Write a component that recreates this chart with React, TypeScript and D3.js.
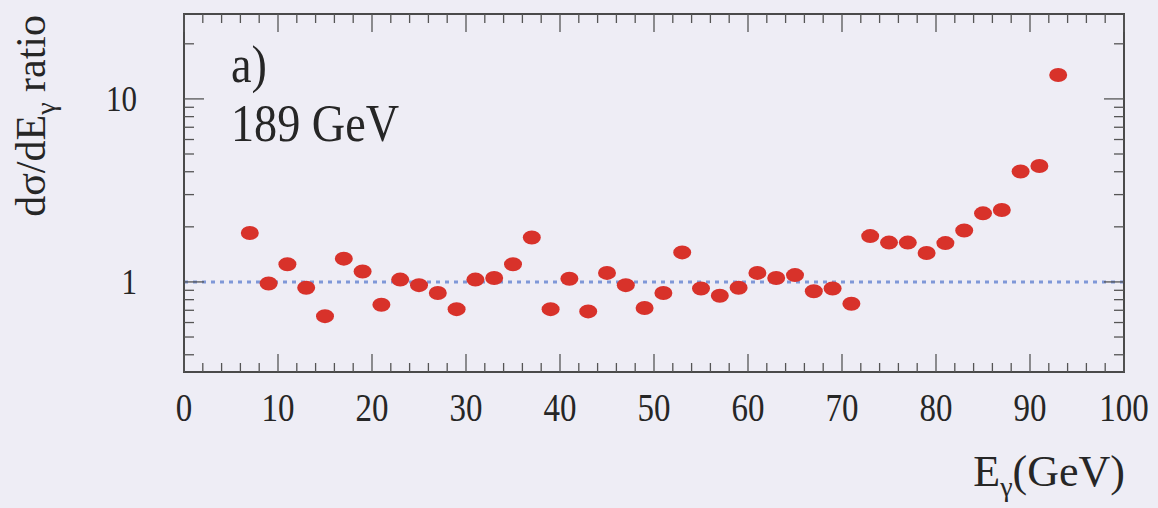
import React, { useEffect, useRef } from 'react';
import * as d3 from 'd3';

// photon energy bin centres (GeV) and the measured/expected ratio
const energies = [
  7, 9, 11, 13, 15, 17, 19, 21, 23, 25, 27, 29, 31, 33, 35, 37, 39, 41, 43, 45, 47, 49,
  51, 53, 55, 57, 59, 61, 63, 65, 67, 69, 71, 73, 75, 77, 79, 81, 83, 85, 87, 89, 91, 93
];
const ratios = [
  1.85, 0.98, 1.25, 0.93, 0.65, 1.34, 1.14, 0.75, 1.03, 0.96, 0.87, 0.71, 1.03, 1.05, 1.25, 1.75,
  0.71, 1.04, 0.69, 1.12, 0.96, 0.72, 0.87, 1.45, 0.92, 0.84, 0.93, 1.12, 1.05, 1.09, 0.89, 0.92,
  0.76, 1.78, 1.64, 1.64, 1.44, 1.63, 1.91, 2.37, 2.47, 4.01, 4.30, 13.5
];
const xTicks = [0, 10, 20, 30, 40, 50, 60, 70, 80, 90, 100];
const xMinorTicks = [
  2, 4, 6, 8, 12, 14, 16, 18, 22, 24, 26, 28, 32, 34, 36, 38, 42, 44, 46, 48,
  52, 54, 56, 58, 62, 64, 66, 68, 72, 74, 76, 78, 82, 84, 86, 88, 92, 94, 96, 98
];
const yTicks = [1, 10];
const yMinorTicks = [0.4, 0.5, 0.6, 0.7, 0.8, 0.9, 2, 3, 4, 5, 6, 7, 8, 9, 20];
const refLevel = 1;

const App = () => {
  const ref = useRef<SVGSVGElement>(null);

  useEffect(() => {
    const width = 1158;
    const height = 508;
    const left = 184, right = 1124, top = 14, bottom = 372;
    const bg = '#eeedf5';
    const ink = '#262626';
    const font = '"Liberation Serif", "DejaVu Serif", serif';

    const svg = d3.select(ref.current);
    svg.selectAll('*').remove();
    svg.attr('width', width).attr('height', height);

    svg.append('rect').attr('width', width).attr('height', height).attr('fill', bg);

    const x = d3.scaleLinear().domain([0, 100]).range([left, right]);
    const y = d3.scaleLog().domain([0.322, 29.1]).range([bottom, top]);

    // soft edge for the scanned look
    const defs = svg.append('defs');
    defs.append('filter').attr('id', 'soft')
      .append('feGaussianBlur').attr('stdDeviation', 0.7);

    // reference line at ratio = 1
    svg.append('line')
      .attr('x1', left).attr('x2', right)
      .attr('y1', y(refLevel)).attr('y2', y(refLevel))
      .attr('stroke', '#7f98d8')
      .attr('stroke-width', 3)
      .attr('stroke-dasharray', '4 5');

    // frame
    svg.append('rect')
      .attr('x', left).attr('y', top)
      .attr('width', right - left).attr('height', bottom - top)
      .attr('fill', 'none')
      .attr('stroke', '#4a4a4a')
      .attr('stroke-width', 2);

    const ticks = svg.append('g').attr('stroke', '#555').attr('stroke-width', 1.3);

    const xTick = (vals: number[], len: number) => {
      vals.forEach(v => {
        ticks.append('line').attr('x1', x(v)).attr('x2', x(v)).attr('y1', bottom).attr('y2', bottom - len);
        ticks.append('line').attr('x1', x(v)).attr('x2', x(v)).attr('y1', top).attr('y2', top + len);
      });
    };
    xTick(xTicks, 18);
    xTick(xMinorTicks, 9);

    const yTick = (vals: number[], len: number) => {
      vals.forEach(v => {
        ticks.append('line').attr('x1', left).attr('x2', left + len).attr('y1', y(v)).attr('y2', y(v));
        ticks.append('line').attr('x1', right).attr('x2', right - len).attr('y1', y(v)).attr('y2', y(v));
      });
    };
    yTick(yTicks, 20);
    yTick(yMinorTicks, 10);

    // tick labels
    svg.append('g')
      .selectAll('text')
      .data(xTicks)
      .enter()
      .append('text')
      .attr('transform', d => `translate(${x(d)},421) scale(1,1.2)`)
      .attr('text-anchor', 'middle')
      .style('font-family', font)
      .style('font-size', '33px')
      .style('fill', ink)
      .text(d => d);

    svg.append('g')
      .selectAll('text')
      .data(yTicks)
      .enter()
      .append('text')
      .attr('transform', d => `translate(137,${y(d) + 12}) scale(1,1.15)`)
      .attr('text-anchor', 'end')
      .style('font-family', font)
      .style('font-size', '31px')
      .style('fill', ink)
      .text(d => d);

    // data points
    svg.append('g')
      .attr('filter', 'url(#soft)')
      .selectAll('ellipse')
      .data(energies)
      .enter()
      .append('ellipse')
      .attr('cx', d => x(d))
      .attr('cy', (d, i) => y(ratios[i]))
      .attr('rx', 9)
      .attr('ry', 7)
      .attr('fill', '#d8302b');

    // panel labels
    svg.append('text')
      .attr('transform', 'translate(231,82) scale(1.05,1.2)')
      .style('font-family', font)
      .style('font-size', '44px')
      .style('fill', ink)
      .text('a)');

    svg.append('text')
      .attr('transform', 'translate(231,141) scale(1.05,1.2)')
      .style('font-family', font)
      .style('font-size', '44px')
      .style('fill', ink)
      .text('189 GeV');

    // x axis title
    const xt = svg.append('text')
      .attr('x', 1125).attr('y', 486)
      .attr('text-anchor', 'end')
      .style('font-family', font)
      .style('font-size', '44px')
      .style('fill', ink);
    xt.append('tspan').text('E');
    xt.append('tspan').attr('dy', 10).style('font-size', '28px').text('γ');
    xt.append('tspan').attr('dy', -10).text('(GeV)');

    // y axis title
    const yt = svg.append('text')
      .attr('transform', 'translate(45,15) rotate(-90)')
      .attr('text-anchor', 'end')
      .style('font-family', font)
      .style('font-size', '42px')
      .style('fill', ink);
    yt.append('tspan').text('dσ/dE');
    yt.append('tspan').attr('dy', 10).style('font-size', '28px').text('γ');
    yt.append('tspan').attr('dy', -10).text(' ratio');
  }, []);

  return (
    <svg ref={ref} style={{ position: 'absolute', left: 0, top: 0 }}></svg>
  );
};

export default App;
